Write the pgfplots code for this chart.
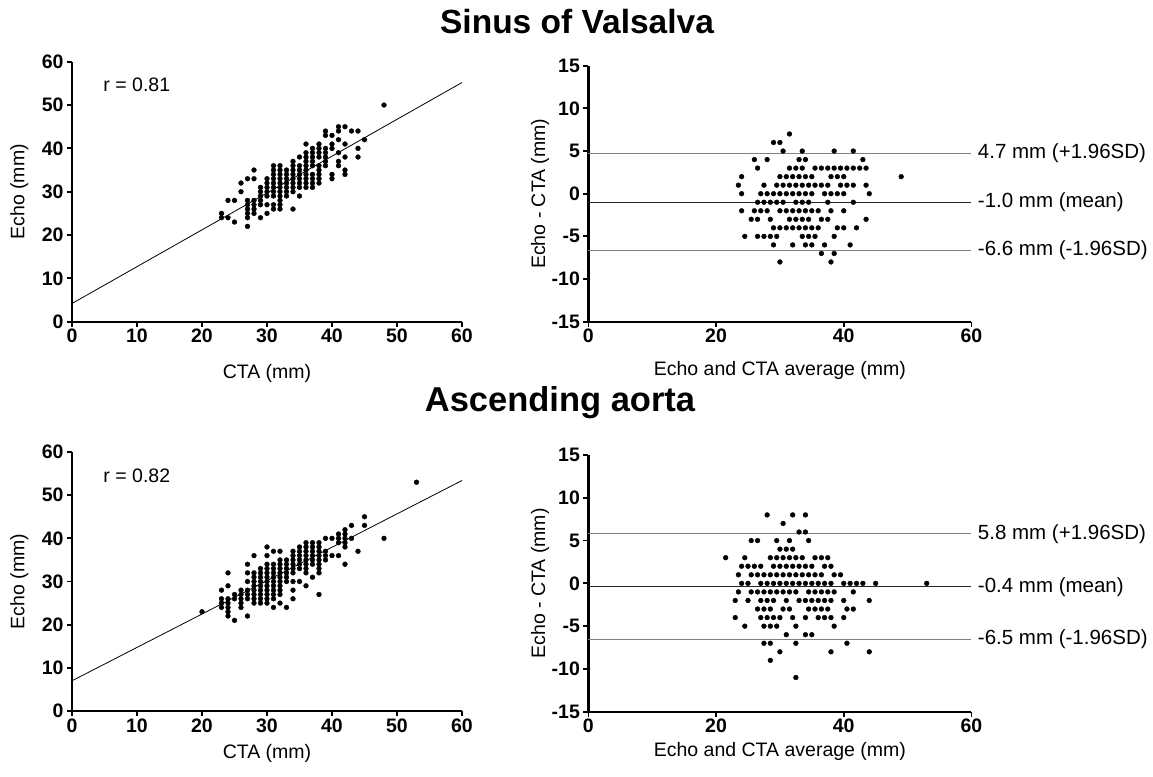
\documentclass[border=0pt]{standalone}
\usepackage{fontspec}
\setmainfont{Liberation Sans}
\usepackage{pgfplots}
\pgfplotsset{compat=1.18}

\pgfplotsset{
  prism/.style={
    scale only axis,
    anchor=south west,
    axis x line=bottom,
    axis y line=left,
    axis line style={-, line width=2.2pt},
    tick align=outside,
    major tick length=5pt,
    tick style={black, line width=1.8pt},
    minor tick num=0,
    tick label style={font=\fontsize{19.5}{20}\selectfont\bfseries},
    xticklabel style={yshift=1pt},
    /pgf/number format/assume math mode=true,
    label style={font=\fontsize{19.5}{21}\selectfont},
    clip=false,
  },
  dots/.style={only marks, mark=*, mark size=2.4pt, black},
}

\begin{document}
\begin{tikzpicture}
\useasboundingbox (0,0) rectangle (1153pt,-776pt);

\node[font=\fontsize{33.5}{36}\selectfont\bfseries] at (577pt,-22pt) {Sinus of Valsalva};
\node[font=\fontsize{34.5}{36}\selectfont\bfseries] at (560pt,-403pt) {Ascending aorta};

% ---- Sinus of Valsalva: correlation
\begin{axis}[prism, at={(72pt,-321.7pt)}, width=390pt, height=260pt,
  xmin=0, xmax=60, ymin=0, ymax=60,
  xtick={0,10,...,60}, ytick={0,10,...,60},
  xlabel={CTA (mm)}, ylabel={Echo (mm)},
  xlabel style={at={(axis description cs:0.5,-0.2)}, anchor=center},
  ylabel style={at={(axis description cs:-0.135,0.5)}, anchor=center}]
\addplot [black, line width=0.8pt] coordinates {(0,4.2) (60,55.2)};
\addplot [dots] coordinates {
(23,25) (23,24) (24,28) (24,24) (25,28) (25,23) (26,32) (26,30)
(27,33) (27,28) (27,27) (27,26) (27,25) (27,24) (27,22)
(28,35) (28,33) (28,28) (28,27) (28,26) (28,25)
(29,31) (29,30) (29,29) (29,28) (29,27) (29,24)
(30,33) (30,32) (30,31) (30,30) (30,29) (30,27) (30,25)
(31,36) (31,35) (31,34) (31,33) (31,32) (31,31) (31,30) (31,29) (31,27) (31,26)
(32,36) (32,35) (32,34) (32,33) (32,32) (32,31) (32,30) (32,29) (32,28) (32,27) (32,26)
(33,35) (33,34) (33,33) (33,32) (33,31) (33,30) (33,29)
(34,37) (34,36) (34,35) (34,34) (34,33) (34,32) (34,31) (34,30) (34,26)
(35,38) (35,36) (35,35) (35,34) (35,33) (35,32) (35,31) (35,29)
(36,41) (36,39) (36,38) (36,37) (36,36) (36,35) (36,34) (36,33) (36,32) (36,31)
(37,40) (37,39) (37,38) (37,37) (37,36) (37,34) (37,33) (37,32) (37,31)
(38,41) (38,40) (38,39) (38,38) (38,36) (38,35) (38,34) (38,33) (38,32)
(39,44) (39,43) (39,40) (39,39) (39,38) (39,37) (39,36)
(40,43) (40,41) (40,40) (40,34) (40,33)
(41,45) (41,44) (41,42) (41,39) (41,37) (41,36)
(42,45) (42,41) (42,38) (42,35) (42,34)
(43,44) (44,44) (44,40) (44,38) (45,42) (48,50)
};
\node[anchor=west, font=\fontsize{19.5}{21}\selectfont] at (axis cs:4.3,54.6) {r = 0.81};
\end{axis}

% ---- Sinus of Valsalva: Bland-Altman
\begin{axis}[prism, at={(588.4pt,-321.7pt)}, width=383pt, height=256pt,
  xmin=0, xmax=60, ymin=-15, ymax=15,
  xtick={0,20,40,60}, ytick={-15,-10,...,15},
  xlabel={Echo and CTA average (mm)}, ylabel={Echo - CTA (mm)},
  xlabel style={at={(axis description cs:0.5,-0.19)}, anchor=center},
  ylabel style={at={(axis description cs:-0.126,0.5)}, anchor=center}]
\addplot [gray, line width=0.7pt] coordinates {(0,4.7) (60,4.7)};
\addplot [black!85, line width=0.9pt] coordinates {(0,-1.0) (60,-1.0)};
\addplot [gray, line width=0.7pt] coordinates {(0,-6.6) (60,-6.6)};
\addplot [dots] coordinates {
(31.5,7) (29,6) (30,6)
(30.5,5) (33.5,5) (38.5,5) (41.5,5)
(26,4) (28,4) (33,4) (34,4) (43,4)
(26.5,3) (31.5,3) (32.5,3) (33.5,3) (35.5,3) (36.5,3) (37.5,3) (38.5,3) (39.5,3) (40.5,3) (41.5,3) (42.5,3) (43.5,3)
(24,2) (30,2) (31,2) (32,2) (33,2) (34,2) (35,2) (38,2) (39,2) (40,2) (49,2)
(23.5,1) (27.5,1) (29.5,1) (30.5,1) (31.5,1) (32.5,1) (33.5,1) (34.5,1) (35.5,1) (36.5,1) (37.5,1) (39.5,1) (40.5,1) (41.5,1) (43.5,1)
(24,0) (27,0) (28,0) (29,0) (30,0) (31,0) (32,0) (33,0) (34,0) (35,0) (37,0) (38,0) (39,0) (40,0) (44,0)
(26.5,-1) (27.5,-1) (28.5,-1) (29.5,-1) (30.5,-1) (32.5,-1) (33.5,-1) (34.5,-1) (37.5,-1) (41.5,-1)
(24,-2) (26,-2) (27,-2) (28,-2) (30,-2) (31,-2) (32,-2) (33,-2) (34,-2) (35,-2) (36,-2) (38,-2) (40,-2)
(25.5,-3) (26.5,-3) (28.5,-3) (31.5,-3) (32.5,-3) (33.5,-3) (34.5,-3) (36.5,-3) (37.5,-3) (43.5,-3)
(29,-4) (30,-4) (31,-4) (32,-4) (33,-4) (34,-4) (35,-4) (36,-4) (39,-4) (40,-4) (42,-4)
(24.5,-5) (26.5,-5) (27.5,-5) (28.5,-5) (29.5,-5) (33.5,-5) (34.5,-5) (35.5,-5) (38.5,-5)
(29,-6) (32,-6) (34,-6) (35,-6) (37,-6) (41,-6)
(36.5,-7) (38.5,-7) (30,-8) (38,-8)
};
\node[anchor=west, xshift=3pt, font=\fontsize{20.5}{22}\selectfont] at (axis cs:60,4.7) {4.7 mm (+1.96SD)};
\node[anchor=west, xshift=3pt, font=\fontsize{20.5}{22}\selectfont] at (axis cs:60,-1.0) {-1.0 mm (mean)};
\node[anchor=west, xshift=3pt, font=\fontsize{20.5}{22}\selectfont] at (axis cs:60,-6.6) {-6.6 mm (-1.96SD)};
\end{axis}

% ---- Ascending aorta: correlation
\begin{axis}[prism, at={(72pt,-711pt)}, width=390pt, height=259pt,
  xmin=0, xmax=60, ymin=0, ymax=60,
  xtick={0,10,...,60}, ytick={0,10,...,60},
  xlabel={CTA (mm)}, ylabel={Echo (mm)},
  xlabel style={at={(axis description cs:0.5,-0.165)}, anchor=center},
  ylabel style={at={(axis description cs:-0.135,0.5)}, anchor=center}]
\addplot [black, line width=0.8pt] coordinates {(0,7.0) (60,53.4)};
\addplot [dots] coordinates {
(20,23)
(23,28) (23,26) (23,25) (23,24)
(24,32) (24,29) (24,26) (24,25) (24,24) (24,23) (24,22)
(25,27) (25,26) (25,21)
(26,28) (26,27) (26,26) (26,25) (26,24)
(27,34) (27,32) (27,30) (27,28) (27,27) (27,26) (27,22)
(28,36) (28,32) (28,31) (28,30) (28,29) (28,28) (28,27) (28,26) (28,25)
(29,33) (29,32) (29,31) (29,30) (29,29) (29,28) (29,27) (29,26) (29,25)
(30,38) (30,36) (30,34) (30,33) (30,32) (30,31) (30,30) (30,29) (30,28) (30,27) (30,26) (30,25)
(31,37) (31,34) (31,33) (31,32) (31,31) (31,30) (31,29) (31,28) (31,27) (31,26) (31,24)
(32,37) (32,35) (32,34) (32,33) (32,32) (32,31) (32,30) (32,29) (32,28) (32,27) (32,25)
(33,35) (33,34) (33,33) (33,32) (33,31) (33,30) (33,24)
(34,37) (34,36) (34,35) (34,34) (34,33) (34,32) (34,30) (34,28) (34,26)
(35,38) (35,37) (35,36) (35,35) (35,34) (35,33) (35,30)
(36,39) (36,38) (36,37) (36,36) (36,35) (36,34) (36,33) (36,32) (36,29)
(37,39) (37,38) (37,37) (37,36) (37,35) (37,34) (37,31)
(38,39) (38,38) (38,37) (38,36) (38,35) (38,34) (38,33) (38,32) (38,27)
(39,40) (39,37) (39,36) (39,35)
(40,40) (40,36)
(41,41) (41,40) (41,39) (41,36)
(42,42) (42,41) (42,40) (42,39) (42,38) (42,34)
(43,43) (43,40) (44,37) (45,45) (45,43) (48,40) (53,53)
};
\node[anchor=west, font=\fontsize{19.5}{21}\selectfont] at (axis cs:4.3,54.6) {r = 0.82};
\end{axis}

% ---- Ascending aorta: Bland-Altman
\begin{axis}[prism, at={(588.4pt,-711.7pt)}, width=383pt, height=256.7pt,
  xmin=0, xmax=60, ymin=-15, ymax=15,
  xtick={0,20,40,60}, ytick={-15,-10,...,15},
  xlabel={Echo and CTA average (mm)}, ylabel={Echo - CTA (mm)},
  xlabel style={at={(axis description cs:0.5,-0.155)}, anchor=center},
  ylabel style={at={(axis description cs:-0.126,0.5)}, anchor=center}]
\addplot [gray, line width=0.7pt] coordinates {(0,5.8) (60,5.8)};
\addplot [black!85, line width=0.9pt] coordinates {(0,-0.4) (60,-0.4)};
\addplot [gray, line width=0.7pt] coordinates {(0,-6.5) (60,-6.5)};
\addplot [dots] coordinates {
(28,8) (32,8) (34,8) (30.5,7) (33,6) (34,6)
(25.5,5) (26.5,5) (29.5,5) (31.5,5) (34.5,5)
(30,4) (31,4) (32,4)
(21.5,3) (24.5,3) (28.5,3) (29.5,3) (30.5,3) (31.5,3) (32.5,3) (33.5,3) (35.5,3) (36.5,3) (37.5,3)
(24,2) (25,2) (26,2) (27,2) (29,2) (30,2) (31,2) (32,2) (33,2) (34,2) (35,2) (37,2) (38,2)
(23.5,1) (25.5,1) (26.5,1) (27.5,1) (28.5,1) (29.5,1) (30.5,1) (31.5,1) (32.5,1) (33.5,1) (34.5,1) (35.5,1) (36.5,1) (38.5,1) (39.5,1)
(24,0) (25,0) (27,0) (28,0) (29,0) (30,0) (31,0) (32,0) (33,0) (34,0) (35,0) (36,0) (37,0) (38,0) (40,0) (41,0) (42,0) (43,0) (45,0) (53,0)
(23.5,-1) (25.5,-1) (26.5,-1) (27.5,-1) (28.5,-1) (29.5,-1) (30.5,-1) (31.5,-1) (32.5,-1) (34.5,-1) (35.5,-1) (36.5,-1) (37.5,-1) (38.5,-1) (41.5,-1)
(23,-2) (25,-2) (27,-2) (28,-2) (29,-2) (31,-2) (33,-2) (34,-2) (35,-2) (36,-2) (37,-2) (38,-2) (40,-2) (44,-2)
(26.5,-3) (27.5,-3) (28.5,-3) (30.5,-3) (31.5,-3) (34.5,-3) (35.5,-3) (36.5,-3) (37.5,-3) (40.5,-3) (41.5,-3)
(23,-4) (27,-4) (28,-4) (29,-4) (30,-4) (32,-4) (34,-4) (36,-4) (37,-4) (38,-4) (40,-4)
(24.5,-5) (27.5,-5) (28.5,-5) (29.5,-5) (32.5,-5) (38.5,-5)
(31,-6) (34,-6) (35,-6)
(27.5,-7) (28.5,-7) (32.5,-7) (40.5,-7)
(30,-8) (38,-8) (44,-8) (28.5,-9) (32.5,-11)
};
\node[anchor=west, xshift=3pt, font=\fontsize{20.5}{22}\selectfont] at (axis cs:60,5.8) {5.8 mm (+1.96SD)};
\node[anchor=west, xshift=3pt, font=\fontsize{20.5}{22}\selectfont] at (axis cs:60,-0.4) {-0.4 mm (mean)};
\node[anchor=west, xshift=3pt, font=\fontsize{20.5}{22}\selectfont] at (axis cs:60,-6.5) {-6.5 mm (-1.96SD)};
\end{axis}
\end{tikzpicture}
\end{document}
